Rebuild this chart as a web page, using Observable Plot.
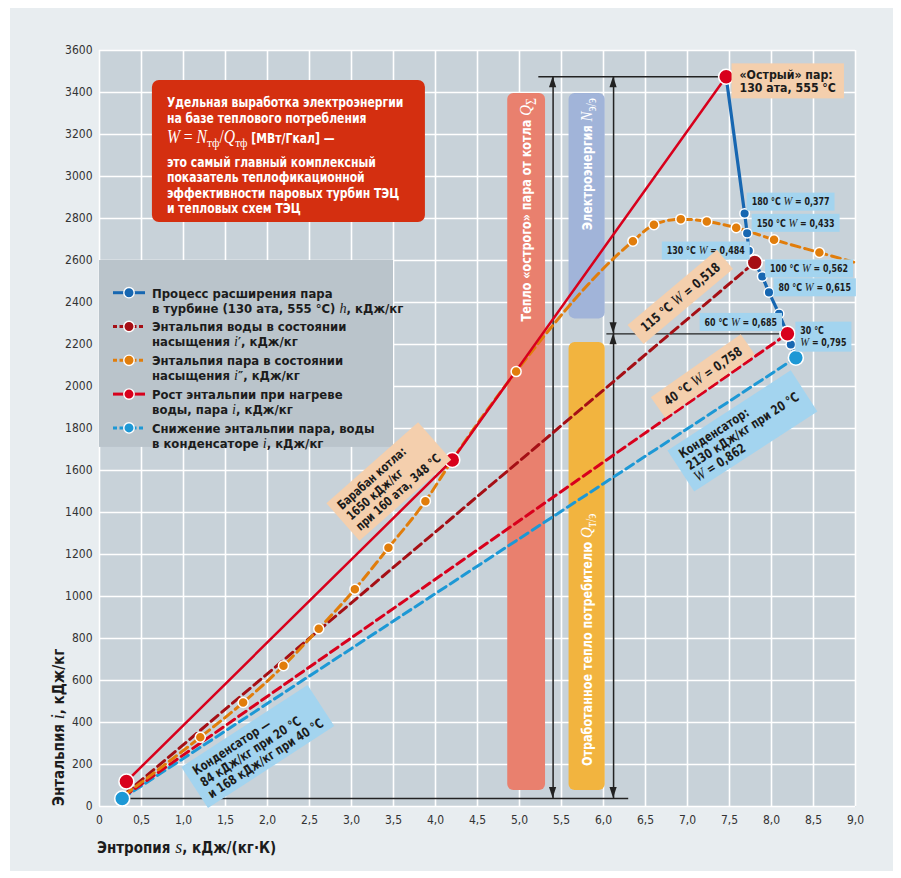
<!DOCTYPE html>
<html lang="ru"><head><meta charset="utf-8">
<script src="https://cdn.jsdelivr.net/npm/d3@7"></script>
<script src="https://cdn.jsdelivr.net/npm/@observablehq/plot@0.6"></script>
<style>
html,body{margin:0;padding:0;background:#ffffff;}
#chart svg{display:block;}
</style></head><body>
<div id="chart"></div>
<script>
// ================= DATA =================
const xTicks = [0,0.5,1,1.5,2,2.5,3,3.5,4,4.5,5,5.5,6,6.5,7,7.5,8,8.5,9];
const yTicks = [0,200,400,600,800,1000,1200,1400,1600,1800,2000,2200,2400,2600,2800,3000,3200,3400,3600];

// Процесс расширения пара в турбине (130 ата, 555 °C), h
const turbineS = [7.46,7.68,7.71,7.73,7.80,7.89,7.97,8.09,8.19,8.23,8.29];
const turbineH = [3475,2824,2730,2646,2591,2524,2448,2346,2251,2200,2137];
const turbineSmallDot = [0,1,1,1,0,1,1,1,0,1,0];

// Энтальпия воды в состоянии насыщения i'
const waterSatS = [0.31,7.80];
const waterSatI = [62,2591];

// Энтальпия пара в состоянии насыщения i''
const steamSatS = [0.30,1.20,1.71,2.19,2.61,3.04,3.44,3.88,4.20,4.96,6.35,6.60,6.92,7.23,7.58,8.03,8.57,9.00];
const steamSatI = [55,330,495,670,846,1035,1232,1454,1650,2071,2692,2770,2797,2786,2756,2699,2638,2590];
const steamSatDot = [0,1,1,1,1,1,1,1,0,1,1,1,1,1,1,1,1,0];

// Рост энтальпии при нагреве воды, пара i
const heatS = [0.32,4.20,7.46];
const heatI = [119,1650,3475];

// Линия 40 °C
const line40S = [0.29,8.19];
const line40I = [48,2251];

// Снижение энтальпии пара, воды в конденсаторе i
const condS = [0.27,8.29];
const condI = [38,2137];

// Характерные точки
const keyS = [0.32,4.20,7.46,8.19,7.80,0.27,8.29];
const keyI = [119,1650,3475,2251,2591,38,2137];
const keyKind = ["heat","heat","heat","heat","water","cond","cond"];

// Полосы (тепло / электроэнергия / отработанное тепло)
const bandLabels = ["Тепло «острого» пара от котла *Q*_{Σ}", "Электроэнергия *N*_{э/э}", "Отработанное тепло потребителю *Q*_{т/э}"];
const bandS1 = [4.86,5.59,5.59];
const bandS2 = [5.31,6.02,6.02];
const bandI1 = [76,2322,76];
const bandI2 = [3395,3395,2210];
const bandKind = ["salmon","lavender","yellow"];

// Вспомогательные линии
const hRuleS1 = [5.23,6.04,0.27];
const hRuleS2 = [7.46,8.19,6.30];
const hRuleI = [3475,2251,38];
const vRuleS = [5.40,6.12,6.12];
const vRuleI1 = [38,2251,38];
const vRuleI2 = [3475,3475,2251];

// Подписи температур
const tempLabels = ["180 °C *W* = 0,377","150 °C *W* = 0,433","130 °C *W* = 0,484","100 °C *W* = 0,562","80 °C *W* = 0,615","60 °C *W* = 0,685","30 °C\n*W* = 0,795"];
const tempS = [7.71,7.77,6.70,7.93,8.03,7.15,8.29];
const tempI = [2878,2777,2645,2560,2470,2305,2235];

// Легенда
const legendLabels = [
  ["Процесс расширения пара","в турбине (130 ата, 555 °C) *h*, кДж/кг"],
  ["Энтальпия воды в состоянии","насыщения *i*′, кДж/кг"],
  ["Энтальпия пара в состоянии","насыщения *i*″, кДж/кг"],
  ["Рост энтальпии при нагреве","воды, пара *i*, кДж/кг"],
  ["Снижение энтальпии пара, воды","в конденсаторе *i*, кДж/кг"]
];
const legendKind = ["turbine","water","steam","heat","cond"];

// Текстовые блоки
const noteLines = ["Удельная выработка электроэнергии","на базе теплового потребления","*W*[[ = ]]*N*_{тф}[[/]]*Q*_{тф} [МВт/Гкал] —","это самый главный комплексный","показатель теплофикационной","эффективности паровых турбин ТЭЦ","и тепловых схем ТЭЦ"];
const steamTopLines = ["«Острый» пар:","130 ата, 555 °C"];
const drumLines = ["Барабан котла:","1650 кДж/кг","при 160 ата, 348 °C"];
const cond2130Lines = ["Конденсатор:","2130 кДж/кг при 20 °C","*W* = 0,862"];
const cond84Lines = ["Конденсатор —","84 кДж/кг при 20 °C","и 168 кДж/кг при 40 °C"];
const line115Lines = ["115 °C *W* = 0,518"];
const line40Lines = ["40 °C *W* = 0,758"];
const xTitle = "Энтропия *s*, кДж/(кг·К)";
const yTitle = "Энтальпия *i*, кДж/кг";

// ================= LAYOUT / STYLE =================
const FONT = "'DejaVu Sans Condensed','DejaVu Sans',sans-serif";
const SERIF = "'Liberation Serif','DejaVu Serif','Times New Roman',serif";
const C = {
  bg:"#e8edf0", plot:"#c8d2d9", grid:"#ffffff", legendBg:"#bac4cb",
  turbine:"#1767b1", water:"#a50f15", steam:"#e17d0b", heat:"#d8001c", cond:"#1d98d5",
  redBox:"#d42f10", peach:"#f4cfad", sky:"#a3d4ef", ink:"#1c1c1c", rule:"#222222",
  salmon:"#e9806e", lavender:"#a1b4d9", yellow:"#f2b43f"
};
const legendArea = [{s1:0, s2:3.5, i1:1710, i2:2600}];
const noteArea = [{s1:0.63, s2:3.88, i1:2781, i2:3457}];

// ================= TABLES =================
const turbine = turbineS.map((s,k)=>({s, i:turbineH[k], small:turbineSmallDot[k]}));
const water = waterSatS.map((s,k)=>({s, i:waterSatI[k]}));
const steam = steamSatS.map((s,k)=>({s, i:steamSatI[k], dot:steamSatDot[k]}));
const heat = heatS.map((s,k)=>({s, i:heatI[k]}));
const line40 = line40S.map((s,k)=>({s, i:line40I[k]}));
const cond = condS.map((s,k)=>({s, i:condI[k]}));
const keys = keyS.map((s,k)=>({s, i:keyI[k], color:C[keyKind[k]]}));
const bands = bandS1.map((s1,k)=>({s1, s2:bandS2[k], i1:bandI1[k], i2:bandI2[k], color:C[bandKind[k]], label:bandLabels[k]}));
const hRules = hRuleS1.map((s1,k)=>({s1, s2:hRuleS2[k], i:hRuleI[k]}));
const vRules = vRuleS.map((s,k)=>({s, i1:vRuleI1[k], i2:vRuleI2[k]}));
const fmtX = d => d === 0 ? "0" : d.toFixed(1).replace(".", ",");
const fmtY = d => String(d);

const chart = Plot.plot({
  width: 901, height: 878,
  marginLeft: 99, marginRight: 46, marginTop: 50, marginBottom: 72,
  style: {background:"transparent", fontFamily: FONT, fontSize:"12px", color:"#333", overflow:"visible"},
  x: {domain:[0,9]},
  y: {domain:[0,3600]},
  marks: [
    Plot.frame({fill: C.plot, stroke: null}),
    Plot.gridX(xTicks, {stroke: C.grid, strokeOpacity: 1, strokeWidth: 1.6}),
    Plot.gridY(yTicks, {stroke: C.grid, strokeOpacity: 1, strokeWidth: 1.6}),
    Plot.axisX(xTicks, {tickSize: 0, tickPadding: 9, tickFormat: fmtX, label: null}),
    Plot.axisY(yTicks, {tickSize: 0, tickPadding: 7, tickFormat: fmtY, label: null}),
    Plot.rect(legendArea, {x1:"s1", x2:"s2", y1:"i1", y2:"i2", fill: C.legendBg}),
    Plot.rect(noteArea, {x1:"s1", x2:"s2", y1:"i1", y2:"i2", fill: C.redBox, rx: 7}),
    Plot.rect(bands, {x1:"s1", x2:"s2", y1:"i1", y2:"i2", fill: d => d.color, rx: 6}),
    Plot.ruleY(hRules, {y:"i", x1:"s1", x2:"s2", stroke: C.rule, strokeWidth: 1.3}),
    Plot.ruleX(vRules, {x:"s", y1:"i1", y2:"i2", stroke: C.rule, strokeWidth: 1.5}),
    Plot.line(cond, {x:"s", y:"i", stroke: C.cond, strokeWidth: 3, strokeDasharray: "9,5"}),
    Plot.line(line40, {x:"s", y:"i", stroke: C.heat, strokeWidth: 3, strokeDasharray: "9,5"}),
    Plot.line(water, {x:"s", y:"i", stroke: C.water, strokeWidth: 3, strokeDasharray: "9,5"}),
    Plot.line(steam, {x:"s", y:"i", stroke: C.steam, strokeWidth: 3, strokeDasharray: "9,5", curve: "monotone-x"}),
    Plot.line(heat, {x:"s", y:"i", stroke: C.heat, strokeWidth: 2.5}),
    Plot.line(turbine, {x:"s", y:"i", stroke: C.turbine, strokeWidth: 3.2}),
    Plot.dot(steam.filter(d => d.dot), {x:"s", y:"i", r: 5, fill: C.steam, stroke: "#fff", strokeWidth: 1.5}),
    Plot.dot(turbine.filter(d => d.small), {x:"s", y:"i", r: 4.8, fill: C.turbine, stroke: "#fff", strokeWidth: 1.5}),
    Plot.dot(keys, {x:"s", y:"i", r: 7.5, fill: d => d.color, stroke: "#fff", strokeWidth: 1.6})
  ]
});
document.getElementById("chart").appendChild(chart);

// ================= OVERLAYS (through Plot scales) =================
const svgEl = chart.tagName.toLowerCase() === "svg" ? chart : chart.querySelector("svg");
const svg = d3.select(svgEl);
const sx = chart.scale("x"), sy = chart.scale("y");
const X = sx.apply ? v => sx.apply(v) : d3.scaleLinear(sx.domain, sx.range);
const Y = sy.apply ? v => sy.apply(v) : d3.scaleLinear(sy.domain, sy.range);

svg.insert("rect", ":first-child").attr("x", 10).attr("y", 8).attr("width", 883).attr("height", 863).attr("fill", C.bg);

const g = svg.append("g").attr("font-family", FONT).attr("text-anchor", "start");

function rich(t, str, fs, mathK = 1.2) {
  const re = /\*([^*]+)\*|_\{([^}]+)\}|\[\[([^\]]+)\]\]/g;
  let last = 0, m, shift = 0;
  const add = (txt, kind) => {
    const ts = t.append("tspan").text(txt);
    let want = 0;
    if (kind === "ital") ts.attr("font-family", SERIF).attr("font-style", "italic").attr("font-weight", "normal").attr("font-size", fs * mathK);
    else if (kind === "sub") { ts.attr("font-family", SERIF).attr("font-weight", "normal").attr("font-size", fs * 0.95); want = fs * 0.3; }
    else if (kind === "serif") ts.attr("font-family", SERIF).attr("font-weight", "normal").attr("font-size", fs * mathK);
    if (want !== shift) { ts.attr("dy", want - shift); shift = want; }
  };
  while ((m = re.exec(str))) {
    if (m.index > last) add(str.slice(last, m.index), "plain");
    if (m[1] !== undefined) add(m[1], "ital");
    else if (m[2] !== undefined) add(m[2], "sub");
    else add(m[3], "serif");
    last = re.lastIndex;
  }
  if (last < str.length) add(str.slice(last), "plain");
  return t;
}

// text with a horizontal squeeze k; pre = transform applied before squeeze
function txt(parent, str, {x = 0, y = 0, fs, mathK = 1.2, fill = C.ink, anchor = "start", pre = "", k = 0.86}) {
  const t = parent.append("text")
    .attr("transform", `${pre} scale(${k},1)`)
    .attr("x", x / k).attr("y", y)
    .attr("text-anchor", anchor)
    .attr("font-size", fs).attr("font-weight", "bold").attr("fill", fill)
    .style("white-space", "pre");
  t.node().__k = k;
  rich(t, str, fs, mathK);
  return t;
}
const setX = (t, x) => t.attr("x", x / t.node().__k);
const widthOf = t => t.node().getComputedTextLength() * t.node().__k;

function noteBox(o) {
  const {x, y, angle = 0, lines, fs, lh, padX = 6, padY = 4, fill, color = C.ink, origin = "center", align = "start", mathK = 1.15, k = 0.86} = o;
  const gg = g.append("g").attr("transform", `translate(${x},${y}) rotate(${angle})`);
  const rect = gg.append("rect").attr("fill", fill);
  const n = lines.length;
  const texts = lines.map((ln, j) => txt(gg, ln, {y: (j - (n - 1) / 2) * lh + 0.36 * fs, fs, mathK, fill: color,
    anchor: align === "center" ? "middle" : "start", k}));
  const W = Math.max(...texts.map(widthOf));
  const w = W + 2 * padX, h = n * lh + 2 * padY;
  const x0 = origin === "center" ? -w / 2 : 0;
  rect.attr("x", x0).attr("y", -h / 2).attr("width", w).attr("height", h);
  texts.forEach(t => setX(t, align === "center" ? x0 + w / 2 : x0 + padX));
}

// arrowheads
function head(x, yTip, dir) { // dir -1 up, +1 down
  const L = 11, hw = 3.6;
  g.append("path").attr("d", `M${x},${yTip} L${x - hw},${yTip - dir * L} L${x + hw},${yTip - dir * L} Z`).attr("fill", C.rule);
}
vRules.forEach(d => {
  head(X(d.s), Y(d.i2), -1);
  head(X(d.s), Y(d.i1), 1);
});

// band labels
bands.forEach((b, j) => {
  const cx = X((b.s1 + b.s2) / 2);
  const top = j < 2;
  const yy = top ? Y(b.i2) + 5 : Y(b.i1) - 24;
  txt(g, b.label, {y: 0.36 * 14.5, fs: 14.5, mathK: 1.2, fill: "#fff", anchor: top ? "end" : "start",
    pre: `translate(${cx},${yy}) rotate(-90)`});
});

// red note box text
{
  const ox = X(noteArea[0].s1) + 15, oy = Y(noteArea[0].i2);
  const offs = [21.7, 37.7, 58, 81.5, 97, 112.5, 128];
  noteLines.forEach((ln, j) => txt(g, ln, {x: ox, y: oy + offs[j] + 0.36 * 14, fs: 14, mathK: 1.3, fill: "#fff"}));
}

// legend
{
  const lx = X(legendArea[0].s1), ly = Y(legendArea[0].i2);
  const dash = {turbine: null, water: "4,2.5", steam: "4,2.5", heat: null, cond: "4,2.5"};
  legendKind.forEach((kind, j) => {
    const cy = ly + 32.7 + j * 33.8;
    const ln = g.append("line").attr("x1", lx + 14).attr("x2", lx + 46).attr("y1", cy).attr("y2", cy)
      .attr("stroke", C[kind]).attr("stroke-width", 3);
    if (dash[kind]) ln.attr("stroke-dasharray", dash[kind]);
    g.append("circle").attr("cx", lx + 30).attr("cy", cy).attr("r", 5.2).attr("fill", C[kind]).attr("stroke", "#fff").attr("stroke-width", 1.4);
    legendLabels[j].forEach((s, q) => txt(g, s, {x: lx + 53, y: cy + 0.3 + q * 15 + 0.36 * 12.6, fs: 12.6, mathK: 1.1, k: 1.03}));
  });
}

// temperature labels
tempLabels.forEach((lab, j) => {
  noteBox({x: X(tempS[j]), y: Y(tempI[j]), lines: lab.split("\n"), fs: 10.5, lh: 12, padX: 5, padY: 3,
    fill: C.sky, origin: "left", mathK: 1.2, k: 0.84});
});

// other annotation boxes
noteBox({x: X(7.53), y: Y(3453), lines: steamTopLines, fs: 12.5, lh: 13.5, padX: 8, padY: 4, fill: C.peach, origin: "left", k: 0.98});
noteBox({x: X(6.92), y: Y(2424), angle: -40, lines: line115Lines, fs: 13, lh: 17, padX: 9, padY: 4, fill: C.peach, align: "center", mathK: 1.2});
noteBox({x: X(7.19), y: Y(2048), angle: -35, lines: line40Lines, fs: 13, lh: 17, padX: 9, padY: 4, fill: C.peach, align: "center", mathK: 1.2});
noteBox({x: X(3.45), y: Y(1545), angle: -41.4, lines: drumLines, fs: 12.5, lh: 14, padX: 7, padY: 4, fill: C.peach});
noteBox({x: X(7.66), y: Y(1786), angle: -33, lines: cond2130Lines, fs: 13, lh: 14, padX: 8, padY: 3.5, fill: C.sky, mathK: 1.2});
noteBox({x: X(1.89), y: Y(283), angle: -33, lines: cond84Lines, fs: 13, lh: 14, padX: 8, padY: 3.5, fill: C.sky});

// axis titles
txt(g, xTitle, {x: 97, y: 853, fs: 15, mathK: 1.2, k: 1});
txt(g, yTitle, {y: 0, fs: 15, mathK: 1.2, k: 1, pre: `translate(64,${Y(0)}) rotate(-90)`});
</script>
</body></html>
